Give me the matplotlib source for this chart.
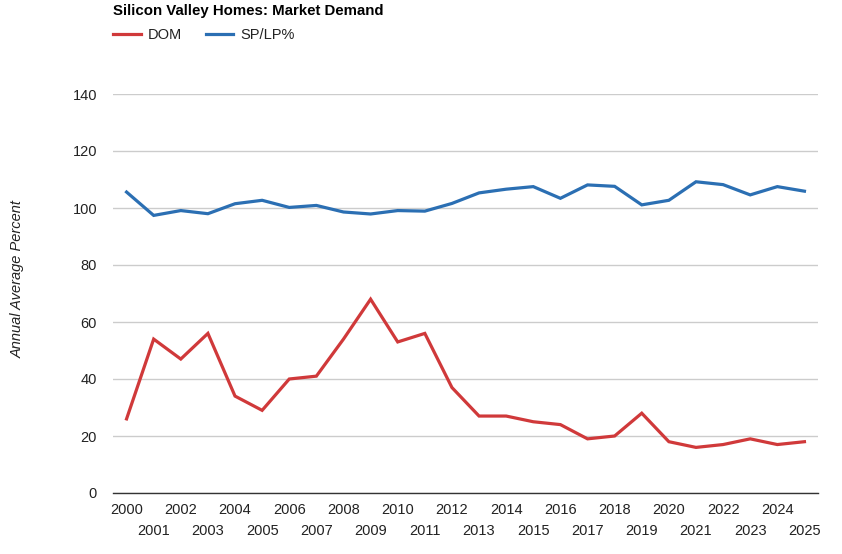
import matplotlib
matplotlib.use("Agg")
import matplotlib.pyplot as plt
from matplotlib.lines import Line2D

plt.rcParams['font.family'] = ['Liberation Sans', 'DejaVu Sans']

# Data
years = list(range(2000, 2026))
dom = [26, 54, 47, 56, 34, 29, 40, 41, 54, 68, 53, 56, 37,
       27, 27, 25, 24, 19, 20, 28, 18, 16, 17, 19, 17, 18]
sp_lp = [105.6, 97.4, 99.1, 98.0, 101.5, 102.7, 100.2, 100.9, 98.6, 97.9, 99.1, 98.9, 101.6,
         105.3, 106.6, 107.5, 103.4, 108.1, 107.6, 101.1, 102.7, 109.2, 108.2, 104.6, 107.5, 105.9]
y_ticks = [0, 20, 40, 60, 80, 100, 120, 140]

red = "#d0393a"
blue = "#2b6fb3"
txt = "#222222"

fig = plt.figure(figsize=(8.42, 5.54), dpi=100)
ax = fig.add_axes([113 / 842, 61 / 554, 705 / 842, 399 / 554])

ax.plot(years, dom, color=red, linewidth=2.3, solid_joinstyle="miter")
ax.plot(years, sp_lp, color=blue, linewidth=2.3, solid_joinstyle="miter")

ax.set_xlim(1999.5, 2025.5)
ax.set_ylim(0, 140)
ax.set_yticks(y_ticks)
ax.set_yticklabels([str(v) for v in y_ticks], fontsize=10.5, color=txt)
ax.tick_params(axis="y", length=0, pad=11.5)

# Staggered year labels: even years on major ticks, odd years on minor ticks
even = [y for y in years if y % 2 == 0]
odd = [y for y in years if y % 2 == 1]
ax.set_xticks(even)
ax.set_xticklabels([str(y) for y in even], fontsize=10.5, color=txt)
ax.set_xticks(odd, minor=True)
ax.set_xticklabels([str(y) for y in odd], minor=True, fontsize=10.5, color=txt)
ax.tick_params(axis="x", which="major", length=0, pad=7)
ax.tick_params(axis="x", which="minor", length=0, pad=22)

ax.grid(axis="y", color="#cccccc", linewidth=1)
ax.set_axisbelow(True)
for s in ["top", "right", "left"]:
    ax.spines[s].set_visible(False)
ax.spines["bottom"].set_color("#333333")
ax.spines["bottom"].set_linewidth(1)

ax.set_ylabel("Annual Average Percent", fontsize=10.5, style="italic", color=txt)
ax.yaxis.set_label_coords((25 - 113) / 705, (493 - 279) / 399)

# Title and legend
fig.text(113 / 842, 1 - 11 / 554, "Silicon Valley Homes: Market Demand",
         fontsize=10.8, fontweight="bold", color="#000000", va="center", ha="left")
handles = [Line2D([], [], color=red, linewidth=2.3), Line2D([], [], color=blue, linewidth=2.3)]
fig.legend(handles, ["DOM", "SP/LP%"], loc="center left",
           bbox_to_anchor=(100 / 842, 1 - 35 / 554), ncol=2, frameon=False,
           fontsize=10.5, handlelength=1.9, handletextpad=0.5, columnspacing=1.6,
           labelcolor=txt)

fig.savefig("out.png", dpi=100)
